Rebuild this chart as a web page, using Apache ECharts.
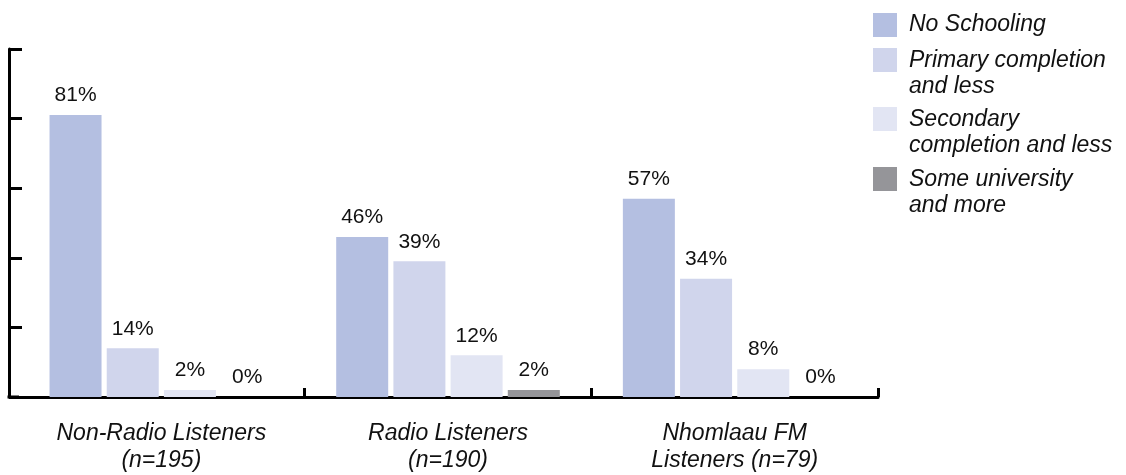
<!DOCTYPE html>
<html><head><meta charset="utf-8">
<script src="https://cdn.jsdelivr.net/npm/echarts@6/dist/echarts.min.js"></script>
<style>html,body{margin:0;padding:0;background:#fff}#c{width:1126px;height:475px}</style>
</head><body><div id="c"></div>
<script>
const categories = ['Non-Radio Listeners\n(n=195)', 'Radio Listeners\n(n=190)', 'Nhomlaau FM\nListeners (n=79)'];
const seriesNames = ['No Schooling', 'Primary completion and less', 'Secondary completion and less', 'Some university and more'];
const legendLabels = ['No Schooling', 'Primary completion\nand less', 'Secondary\ncompletion and less', 'Some university\nand more'];
const noSchooling = [81, 46, 57];
const primaryOrLess = [14, 39, 34];
const secondaryOrLess = [2, 12, 8];
const universityOrMore = [0, 2, 0];
const yTicks = [0, 20, 40, 60, 80, 100];
const colors = ['#b4bfe1', '#d0d5ec', '#e2e5f3', '#959599'];

const FONT = '"Liberation Sans", Arial, Helvetica, sans-serif';
const values = [noSchooling, primaryOrLess, secondaryOrLess, universityOrMore];
const legendTops = [12, 48, 107, 167];

const legends = seriesNames.map((n, i) => {
  const twoLine = legendLabels[i].indexOf('\n') >= 0;
  return {
    left: 873, top: legendTops[i], padding: 0, orient: 'vertical',
    selectedMode: false,
    itemWidth: 24, itemHeight: twoLine ? 52 : 24,
    data: [{ name: n, icon: twoLine ? 'path://M0,0H24V24H0Z M0,52L24,52' : 'rect', itemStyle: { color: colors[i] } }],
    formatter: () => legendLabels[i],
    textStyle: { fontFamily: FONT, fontStyle: 'italic', fontSize: 23, lineHeight: 26, color: '#111', padding: [0, 0, 0, 7] }
  };
});

const chart = echarts.init(document.getElementById('c'), null, { renderer: 'canvas' });
chart.setOption({
  animation: false,
  backgroundColor: '#fff',
  grid: { left: 18, right: 248, top: 49, bottom: 78, containLabel: false },
  legend: legends,
  xAxis: {
    type: 'category', data: categories,
    axisLine: { show: true, lineStyle: { color: '#000', width: 3 } },
    axisTick: { show: true, inside: true, length: 9, interval: (i) => i !== 0, lineStyle: { color: '#000', width: 3 } },
    axisLabel: { fontFamily: FONT, fontStyle: 'italic', fontSize: 23, lineHeight: 27, color: '#111', margin: 23, interval: 0 },
    splitLine: { show: false }
  },
  yAxis: {
    type: 'value', min: yTicks[0], max: yTicks[yTicks.length - 1], interval: yTicks[1] - yTicks[0], offset: 9,
    axisLine: { show: true, lineStyle: { color: '#000', width: 3 } },
    axisTick: { show: true, inside: true, length: 13, lineStyle: { color: '#000', width: 3 } },
    axisLabel: { show: false },
    splitLine: { show: false }
  },
  graphic: [{ type: 'line', shape: { x1: 7.5, y1: 397, x2: 19, y2: 397 }, style: { stroke: '#000', lineWidth: 3 }, silent: true }],
  series: seriesNames.map((n, i) => ({
    type: 'bar', name: n, data: values[i],
    barWidth: 52, barGap: '10%',
    itemStyle: { color: colors[i] },
    emphasis: { disabled: true },
    label: { show: true, position: 'top', distance: 9, formatter: '{c}%', fontFamily: FONT, fontSize: 21, color: '#111' }
  }))
});
</script></body></html>
